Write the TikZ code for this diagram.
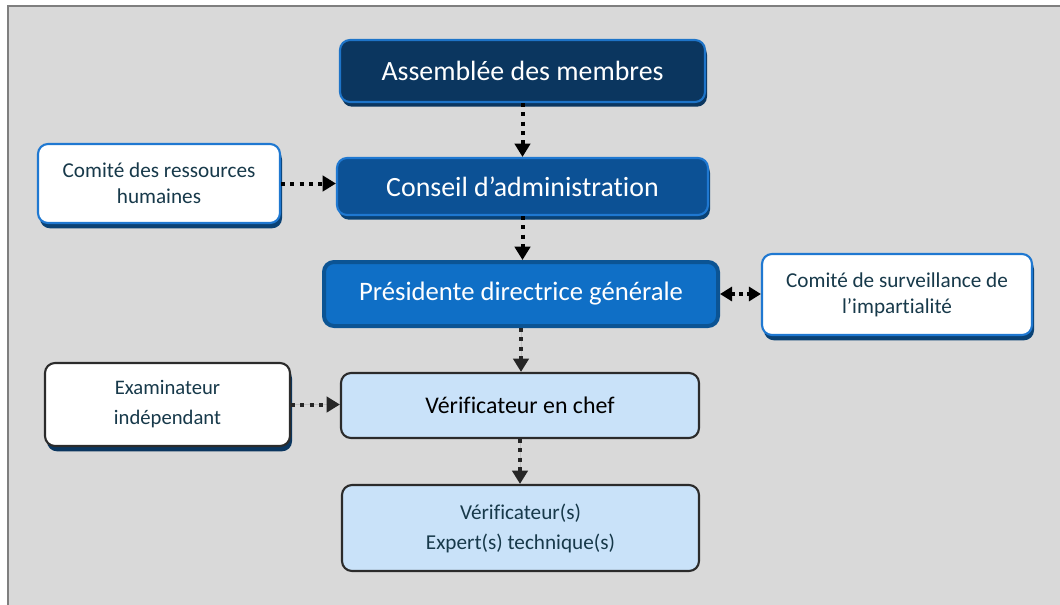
\documentclass[tikz,border=0pt]{standalone}
\usepackage{fontspec}
\setmainfont[RawFeature={-liga;-clig;-calt;-dlig}]{Carlito}
\usetikzlibrary{arrows.meta,shadows}
\definecolor{bg}{HTML}{D9D9D9}
\definecolor{bgline}{HTML}{7F7F7F}
\definecolor{navy}{HTML}{0B365F}
\definecolor{navyedge}{HTML}{1E74C8}
\definecolor{mid}{HTML}{0C5195}
\definecolor{midedge}{HTML}{1F78D1}
\definecolor{bright}{HTML}{0F6FC6}
\definecolor{brightedge}{HTML}{0B5494}
\definecolor{shadowblue}{HTML}{0B365F}
\definecolor{shadowmid}{HTML}{0A4275}
\definecolor{lightfill}{HTML}{C9E2F9}
\definecolor{darkedge}{HTML}{2B2B2B}
\definecolor{tealtext}{HTML}{17394A}
\definecolor{arrowgray}{HTML}{262626}
\tikzset{
  box/.style={rounded corners=7.5pt, inner sep=0pt, align=center},
  navybox/.style={box, fill=navy, draw=navyedge, line width=1.6pt, text=white,
    drop shadow={shadow xshift=1.5pt, shadow yshift=-3.5pt, fill=shadowblue, opacity=1}},
  midbox/.style={box, fill=mid, draw=midedge, line width=1.6pt, text=white,
    drop shadow={shadow xshift=1.5pt, shadow yshift=-3.5pt, fill=shadowmid, opacity=1}},
  brightbox/.style={box, fill=bright, draw=brightedge, line width=3pt, text=white},
  whitebox/.style={box, fill=white, draw=midedge, line width=1.6pt, text=tealtext,
    drop shadow={shadow xshift=1.5pt, shadow yshift=-4pt, fill=shadowmid, opacity=1}},
  whitedark/.style={box, fill=white, draw=darkedge, line width=1.6pt, text=tealtext,
    drop shadow={shadow xshift=1.5pt, shadow yshift=-4pt, fill=shadowblue, opacity=1}},
  lightbox/.style={box, fill=lightfill, draw=darkedge, line width=1.6pt},
  conn/.style={line width=3pt, dash pattern=on 3pt off 4pt, -{Triangle[length=10pt,width=11.5pt]}},
  biconn/.style={line width=3pt, dash pattern=on 3pt off 3pt, {Triangle[length=9pt,width=10.5pt]}-{Triangle[length=9pt,width=10.5pt]}},
}
\begin{document}
\begin{tikzpicture}[x=0.75pt,y=-0.75pt]
\useasboundingbox (0,0) rectangle (1060,604);
\begin{scope}
\clip (0,0) rectangle (1060,604);
\draw[fill=bg, draw=bgline, line width=1.5pt] (8,6) rectangle (1080,625);
\end{scope}

\node[navybox, minimum width=273.75pt, minimum height=46.5pt, font=\fontsize{20.9}{24}\selectfont] (A) at (522.5,71) {Assemblée des membres};
\node[midbox, minimum width=278.25pt, minimum height=42.75pt, font=\fontsize{20.9}{24}\selectfont] (C) at (522.5,186.5) {Conseil d’administration};
\node[brightbox, minimum width=295.5pt, minimum height=48pt, font=\fontsize{20}{24}\selectfont] (P) at (521,294) {Présidente directrice générale};
\node[whitebox, minimum width=181.5pt, minimum height=59.25pt, font=\fontsize{15.9}{19.5}\selectfont] (R) at (159,183.5) {Comité des ressources\\humaines};
\node[whitebox, minimum width=202.5pt, minimum height=60.75pt, font=\fontsize{15.9}{19.5}\selectfont] (S) at (897,294.5) {Comité de surveillance de\\l’impartialité};
\node[whitedark, minimum width=183.75pt, minimum height=62.25pt, font=\fontsize{15.5}{22.5}\selectfont] (E) at (167.5,404.5) {Examinateur\\indépendant};
\node[lightbox, minimum width=268.5pt, minimum height=48.75pt, font=\fontsize{17.9}{21}\selectfont] (V) at (520,405.5) {Vérificateur en chef};
\node[lightbox, text=tealtext, minimum width=267.75pt, minimum height=64.5pt, font=\fontsize{15.9}{22.5}\selectfont] (W) at (520.5,528) {Vérificateur(s)\\Expert(s) technique(s)};

\draw[conn] (A.south) -- (C.north);
\draw[conn] (R.east) -- (R.east -| C.west);
\draw[conn] (C.south) -- (C.south |- P.north);
\draw[biconn] (P.east) -- (P.east -| S.west);
\draw[conn, draw=arrowgray, fill=arrowgray] (P.south) -- (P.south |- V.north);
\draw[conn, draw=arrowgray, fill=arrowgray] (E.east) -- (E.east -| V.west);
\draw[conn, draw=arrowgray, fill=arrowgray] (V.south) -- (V.south |- W.north);
\end{tikzpicture}
\end{document}
